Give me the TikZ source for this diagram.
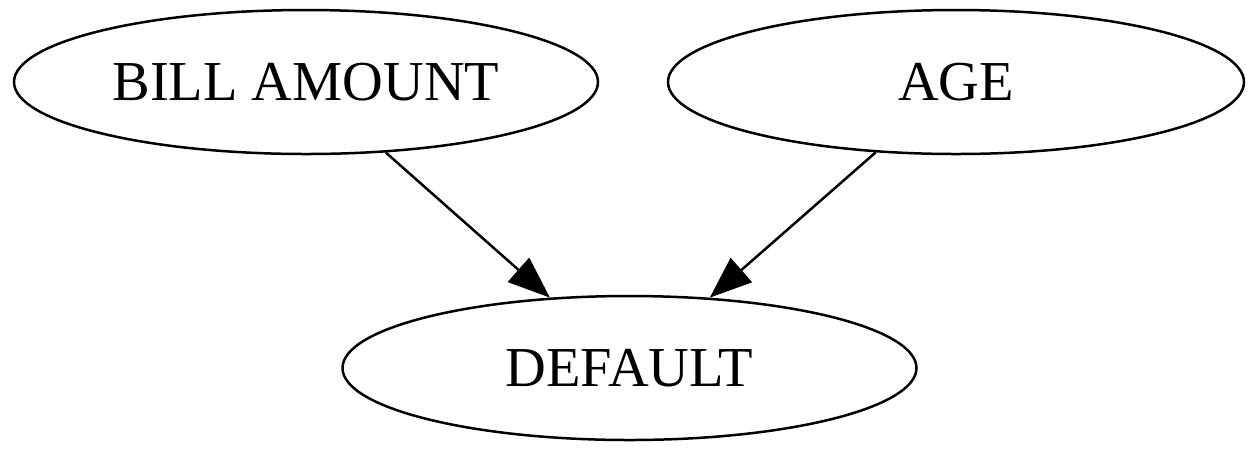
\documentclass[tikz,border=0pt]{standalone}
\usepackage{fontspec}
\setmainfont{Liberation Serif}
\usetikzlibrary{arrows.meta,positioning,shapes.geometric}
\tikzset{>/.tip={Triangle[length=21pt,width=16pt]}}
\tikzset{var/.style={ellipse,draw,line width=1.25pt,inner sep=0pt,minimum height=72pt}}

\begin{document}
\begin{tikzpicture}[font=\fontsize{28.2}{32}\selectfont,on grid]
        \useasboundingbox (0pt,0pt) rectangle (629pt,-226pt);
        \node(def)[var,minimum width=287pt] at (314.75pt,-184pt){DEFAULT};
        \node(bill)[var,minimum width=292pt,above left=143pt and 161.75pt of def]{BILL AMOUNT};
        \node(age)[var,minimum width=288pt,above right=143pt and 163.25pt of def]{AGE};
        \draw[->,line width=1.25pt]
        (bill) edge (def)
        (age) edge (def);
      \end{tikzpicture}
\end{document}
